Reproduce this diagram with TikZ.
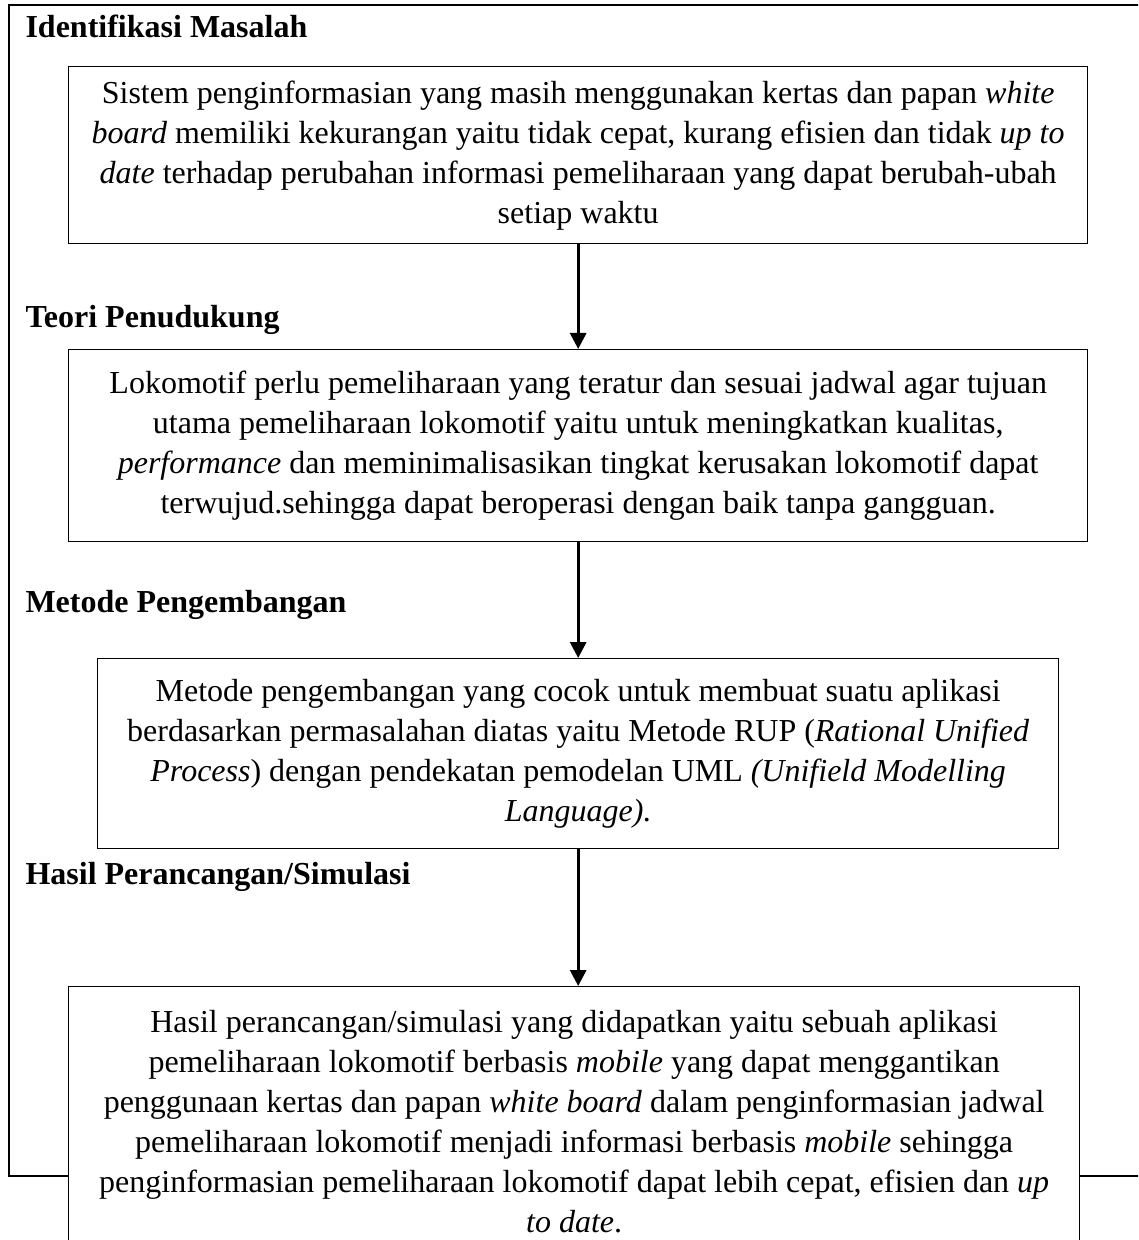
\documentclass[tikz,border=0pt]{standalone}
\usepackage{fontspec}
\setmainfont{Liberation Serif}
\usetikzlibrary{arrows.meta}
\begin{document}
\begin{tikzpicture}[x=0.375pt,y=-0.375pt,
  every node/.style={font=\fontsize{12pt}{15pt}\selectfont},
  textbox/.style={draw,line width=0.5pt,align=center,inner sep=0pt,anchor=north west},
  boxsize/.style 2 args={minimum width={#1*0.375pt},minimum height={#2*0.375pt}},
  heading/.style={font=\fontsize{12pt}{15pt}\selectfont\bfseries,anchor=base west,inner sep=0pt},
  flow/.style={line width=1.15pt,-{Triangle[length=6pt,width=6pt]}},
  frame/.style={line width=0.75pt}]
\clip (0,0) rectangle (1138,1240);

% section headings
\node[heading] (h1) at (25,38)  {Identifikasi Masalah};
\node[heading] (h2) at (25,328) {Teori Penudukung};
\node[heading] (h3) at (25,612) {Metode Pengembangan};
\node[heading] (h4) at (25,884) {Hasil Perancangan/Simulasi};

% content boxes
\node[textbox,boxsize={1019}{177}] (b1) at (68,66) {%
Sistem penginformasian yang masih menggunakan kertas dan papan \textit{white}\\
\textit{board} memiliki kekurangan yaitu tidak cepat, kurang efisien dan tidak \textit{up to}\\
\textit{date} terhadap perubahan informasi pemeliharaan yang dapat berubah-ubah\\
setiap waktu};

\node[textbox,boxsize={1019}{192}] (b2) at (68,349) {%
Lokomotif perlu pemeliharaan yang teratur dan sesuai jadwal agar tujuan\\
utama pemeliharaan lokomotif yaitu untuk meningkatkan kualitas,\\
\textit{performance} dan meminimalisasikan tingkat kerusakan lokomotif dapat\\
terwujud.sehingga dapat beroperasi dengan baik tanpa gangguan.};

\node[textbox,boxsize={961}{190}] (b3) at (97,658) {%
Metode pengembangan yang cocok untuk membuat suatu aplikasi\\
berdasarkan permasalahan diatas yaitu Metode RUP (\textit{Rational Unified}\\
\textit{Process}) dengan pendekatan pemodelan UML \textit{(Unifield Modelling}\\
\textit{Language).}};

\node[textbox,boxsize={1011}{270}] (b4) at (68,986) {%
Hasil perancangan/simulasi yang didapatkan yaitu sebuah aplikasi\\
pemeliharaan lokomotif berbasis \textit{mobile} yang dapat menggantikan\\
penggunaan kertas dan papan \textit{white board} dalam penginformasian jadwal\\
pemeliharaan lokomotif menjadi informasi berbasis \textit{mobile} sehingga\\
penginformasian pemeliharaan lokomotif dapat lebih cepat, efisien dan \textit{up}\\
\textit{to date}.};

% connectors
\draw[flow] (b1.south) -- (b2.north);
\draw[flow] (b2.south) -- (b3.north);
\draw[flow] (b3.south) -- (b3.south |- b4.north);

% outer frame around the whole chart
\coordinate (ftl) at (1150,5);
\coordinate (fbl) at (9,1176);
\coordinate (fbr) at (1150,1176);
\draw[frame] (ftl) -- (9,5) -- (fbl) -- (b4.west |- fbl);
\draw[frame] (b4.east |- fbl) -- (fbr);
\end{tikzpicture}
\end{document}
